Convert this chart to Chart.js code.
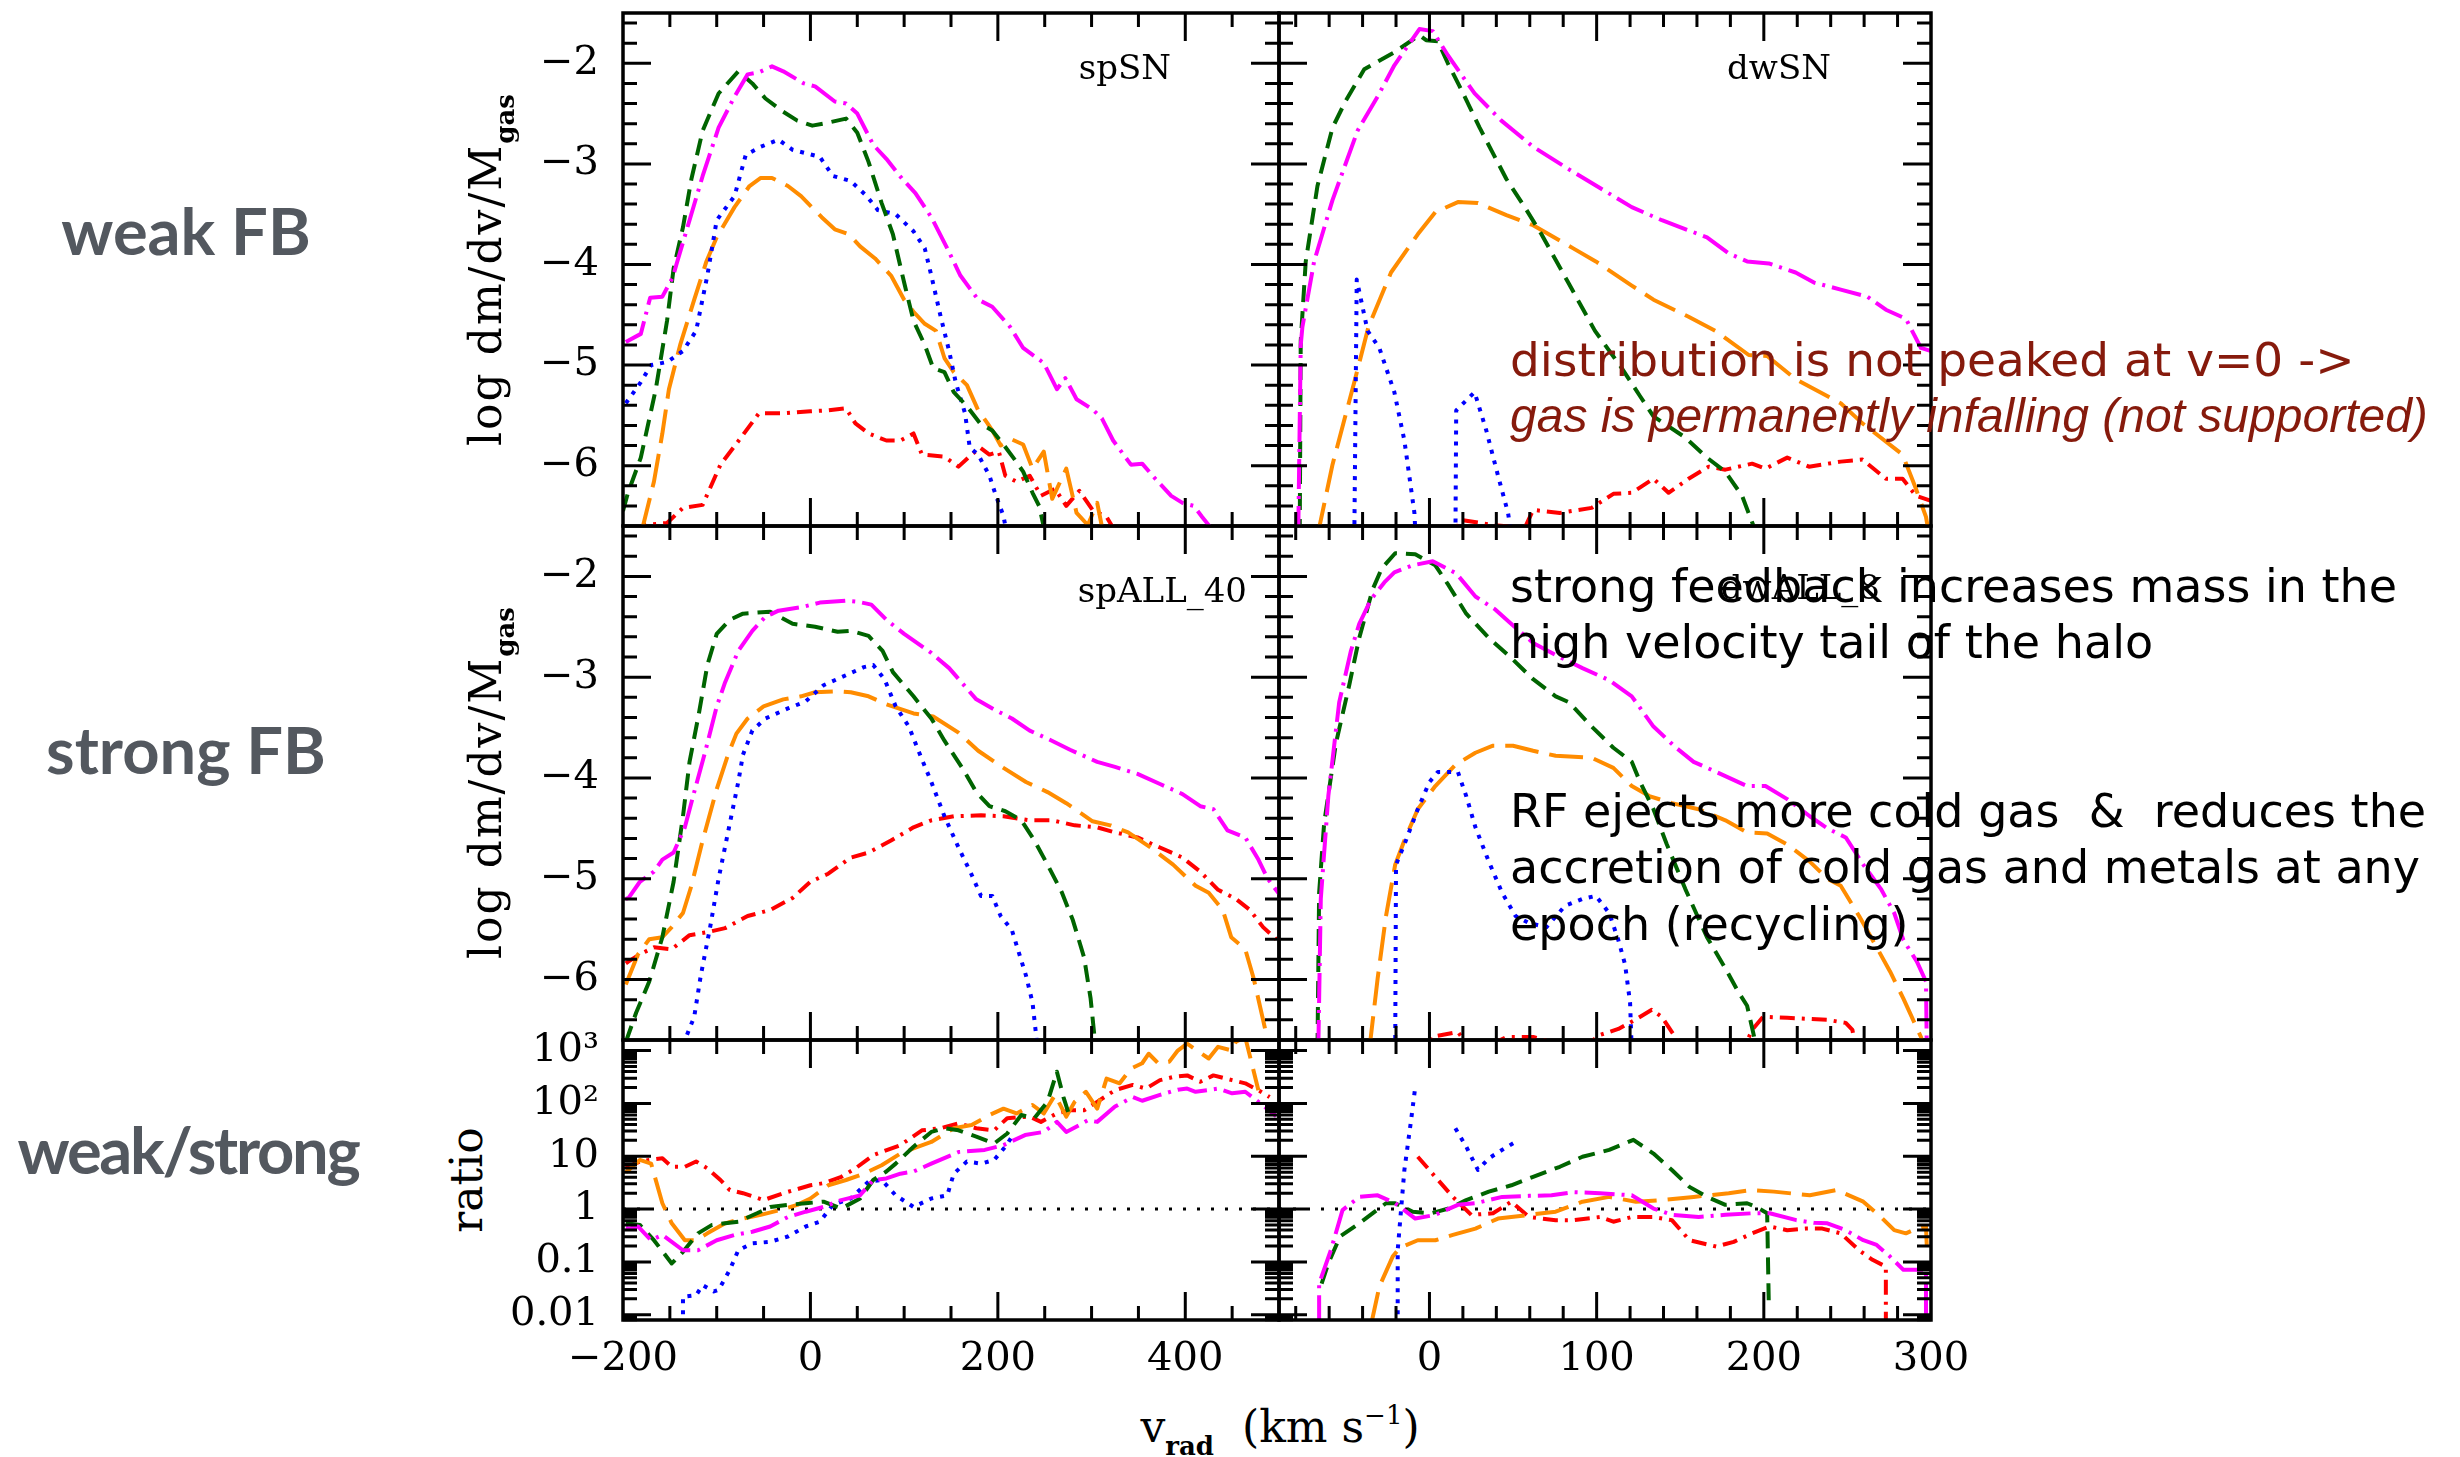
<!DOCTYPE html>
<html lang="en">
<head>
<meta charset="utf-8">
<title>Radial velocity distributions of halo gas</title>
<script src="https://cdn.jsdelivr.net/npm/chart.js@4.4.1/dist/chart.umd.min.js"></script>
<style>
  html, body { margin: 0; padding: 0; background: #fff; }
  #stage { position: relative; width: 2460px; height: 1457px; overflow: hidden; background: #fff; }
  #stage canvas { position: absolute; }
  .txt { position: absolute; white-space: pre; line-height: 1; }
  .row-label { font-family: Lato, 'Open Sans', sans-serif; font-weight: 700; font-size: 65px; color: #53585f; transform: translateX(-50%); }
  .serif { font-family: 'DejaVu Serif', serif; color: #000; }
  .ytitle { font-size: 44px; transform: translate(-50%, -50%) rotate(-90deg); letter-spacing: 2px; }
  .sub { font-size: 26px; font-weight: bold; position: relative; top: 13px; letter-spacing: 0; }
  .sup { font-size: 26px; position: relative; top: -18px; }
  .tag { font-size: 34px; }
  .note { font-family: 'DejaVu Sans', sans-serif; font-size: 46px; color: #000; left: 1510px; }
  .note.red { color: #861a0c; }
  .note.wide { font-size: 47px; }
  .note.italic { font-family: 'Liberation Sans', Arial, sans-serif; font-style: italic; font-size: 48px; }
</style>
</head>
<body>
<div id="stage">
  <div class="txt row-label" style="left:186px;top:198px">weak FB</div>
  <div class="txt row-label" style="left:186px;top:717px">strong FB</div>
  <div class="txt row-label" style="left:188px;top:1117px;letter-spacing:-2.3px">weak/strong</div>

  <div class="txt serif ytitle" style="left:486px;top:270px">log dm/dv/M<span class="sub">gas</span></div>
  <div class="txt serif ytitle" style="left:486px;top:783px">log dm/dv/M<span class="sub">gas</span></div>
  <div class="txt serif ytitle" style="left:467px;top:1180px;letter-spacing:0">ratio</div>
  <div class="txt serif" style="left:1280px;top:1405px;font-size:44px;transform:translateX(-50%)">v<span class="sub">rad</span>  (km s<span class="sup">−1</span>)</div>

  <div class="txt serif tag" style="right:1289px;top:50px">spSN</div>
  <div class="txt serif tag" style="right:629px;top:50px">dwSN</div>
  <div class="txt serif tag" style="right:1213px;top:573px">spALL_40</div>
  <div class="txt serif tag" style="right:580px;top:570px">dwALL_8</div>
</div>
<script>
// ---------------------------------------------------------------
// Axis limits and tick labels
// ---------------------------------------------------------------
const vradLeft = [-200, 500];          // km/s, spiral runs
const vradRight = [-90, 300];          // km/s, dwarf runs
const logDensity = [-6.6, -1.5];       // log dm/dv/Mgas
const ratioLog = [-2.1, 3.2];          // log10 of weak/strong ratio
const xLabelsLeft = [-200, 0, 200, 400];
const xLabelsRight = [0, 100, 200, 300];
const yLabels = [-6, -5, -4, -3, -2];
const ratioTickValues = [0.01, 0.1, 1, 10, 100, 1000];
const ratioTickText = ['0.01', '0.1', '1', '10', '10²', '10³'];

// ---------------------------------------------------------------
// spSN (weak feedback, spiral): [v_rad, log dm/dv/Mgas]
// ---------------------------------------------------------------
const spSN_magenta = [[-197,-4.77],[-181,-4.69],[-171,-4.33],[-158,-4.32],[-147,-4.13],[-143,-4.0],[-129,-3.56],[-115,-3.12],[-98,-2.64],[-81,-2.33],[-67,-2.11],[-55,-2.09],[-41,-2.03],[-29,-2.08],[-7,-2.2],[5,-2.23],[26,-2.38],[38,-2.4],[50,-2.5],[67,-2.81],[81,-2.95],[98,-3.15],[112,-3.29],[129,-3.53],[146,-3.84],[160,-4.11],[179,-4.35],[194,-4.42],[213,-4.62],[227,-4.83],[249,-4.98],[263,-5.24],[272,-5.13],[284,-5.34],[301,-5.44],[311,-5.53],[323,-5.75],[342,-5.99],[354,-5.98],[368,-6.13],[385,-6.3],[397,-6.37],[409,-6.4],[418,-6.51],[430,-6.65]];
const spSN_green = [[-200,-6.45],[-195,-6.28],[-181,-5.92],[-165,-5.24],[-153,-4.56],[-146,-4.04],[-136,-3.63],[-127,-3.15],[-115,-2.67],[-98,-2.3],[-77,-2.08],[-62,-2.2],[-48,-2.35],[-31,-2.47],[-14,-2.57],[2,-2.62],[19,-2.59],[38,-2.55],[50,-2.69],[62,-2.98],[76,-3.39],[88,-3.7],[100,-4.18],[110,-4.56],[122,-4.8],[131,-5.03],[143,-5.07],[153,-5.27],[167,-5.41],[181,-5.58],[194,-5.65],[206,-5.79],[218,-5.94],[227,-6.06],[237,-6.27],[244,-6.4],[250,-6.65]];
const spSN_blue = [[-197,-5.38],[-181,-5.17],[-170,-5.0],[-153,-4.97],[-136,-4.86],[-122,-4.66],[-110,-4.11],[-100,-3.56],[-81,-3.32],[-69,-2.91],[-53,-2.83],[-34,-2.76],[-19,-2.86],[10,-2.93],[24,-3.12],[43,-3.17],[60,-3.32],[72,-3.46],[91,-3.5],[110,-3.67],[122,-3.84],[129,-4.11],[139,-4.52],[148,-4.86],[155,-5.17],[165,-5.48],[170,-5.82],[179,-5.89],[191,-6.1],[198,-6.3],[206,-6.5],[209,-6.65]];
const spSN_orange = [[-180,-6.65],[-167,-6.16],[-158,-5.68],[-151,-5.24],[-139,-4.8],[-124,-4.35],[-111,-3.97],[-100,-3.73],[-81,-3.43],[-65,-3.22],[-53,-3.14],[-41,-3.14],[-24,-3.22],[-10,-3.32],[12,-3.53],[26,-3.65],[41,-3.7],[53,-3.82],[69,-3.94],[86,-4.11],[100,-4.35],[110,-4.47],[122,-4.59],[134,-4.66],[143,-4.93],[153,-5.07],[167,-5.2],[179,-5.45],[189,-5.58],[196,-5.68],[203,-5.8],[215,-5.74],[227,-5.79],[237,-6.03],[249,-5.86],[258,-6.33],[273,-6.03],[284,-6.47],[296,-6.59],[306,-6.37],[312,-6.65]];
const spSN_red = [[-185,-6.7],[-177,-6.59],[-153,-6.57],[-136,-6.42],[-115,-6.39],[-96,-5.99],[-74,-5.72],[-55,-5.48],[-29,-5.48],[0,-5.46],[19,-5.45],[38,-5.43],[48,-5.58],[62,-5.68],[81,-5.75],[96,-5.75],[110,-5.68],[119,-5.89],[143,-5.91],[158,-6.01],[172,-5.89],[181,-5.82],[191,-5.89],[201,-5.86],[208,-6.1],[220,-6.16],[234,-6.1],[246,-6.3],[261,-6.23],[273,-6.4],[287,-6.25],[301,-6.44],[316,-6.51],[325,-6.65]];

// ---------------------------------------------------------------
// dwSN (weak feedback, dwarf)
// ---------------------------------------------------------------
const dwSN_magenta = [[-78.5,-6.7],[-77,-4.8],[-76,-4.62],[-69,-3.97],[-58,-3.36],[-43,-2.67],[-31,-2.33],[-21,-2.02],[-6,-1.66],[2,-1.68],[11,-1.92],[27,-2.3],[43,-2.57],[62,-2.83],[83,-3.05],[102,-3.24],[121,-3.43],[139,-3.56],[166,-3.73],[179,-3.89],[190,-3.97],[203,-3.99],[219,-4.08],[230,-4.18],[246,-4.25],[262,-4.32],[273,-4.45],[285,-4.54],[294,-4.83],[300,-4.86]];
const dwSN_green = [[-77.6,-6.7],[-77,-4.76],[-74,-3.97],[-67,-3.22],[-58,-2.64],[-50,-2.37],[-39,-2.06],[-21,-1.89],[-6,-1.72],[-2,-1.77],[5,-1.78],[11,-2.0],[19,-2.26],[30,-2.64],[46,-3.15],[57,-3.43],[67,-3.7],[83,-4.18],[99,-4.66],[115,-5.03],[126,-5.31],[134,-5.51],[153,-5.72],[166,-5.92],[177,-6.06],[187,-6.3],[195,-6.65]];
const dwSN_blue = [[-45,-6.8],[-43.5,-4.15],[-37,-4.66],[-30,-4.83],[-21,-5.27],[-15,-5.75],[-9,-6.47],[-8,-6.8],[15.5,-6.8],[16,-5.45],[27,-5.27],[34,-5.65],[41,-6.1],[47,-6.47],[50,-6.8]];
const dwSN_orange = [[-67,-6.7],[-58,-5.99],[-44.5,-5.14],[-36.5,-4.62],[-23,-4.08],[-7,-3.7],[3.5,-3.48],[17,-3.38],[29,-3.39],[46,-3.51],[62,-3.61],[86,-3.84],[99.5,-3.97],[121,-4.21],[134,-4.35],[155,-4.52],[171,-4.66],[191,-4.9],[202,-4.91],[219,-5.14],[246,-5.38],[259,-5.58],[283,-5.89],[291,-6.23],[297,-6.51],[299,-6.7]];
const dwSN_red = [[10,-6.8],[19,-6.54],[38,-6.59],[57,-6.62],[62,-6.44],[78,-6.47],[97,-6.42],[110,-6.28],[121,-6.27],[134,-6.13],[143,-6.27],[155,-6.13],[167,-6.01],[177,-6.04],[193,-5.98],[201,-6.03],[214,-5.92],[227,-6.01],[246,-5.96],[259,-5.94],[273,-6.13],[283,-6.13],[291,-6.3],[300,-6.35]];

// ---------------------------------------------------------------
// spALL_40 (strong feedback, spiral)
// ---------------------------------------------------------------
const spALL_magenta = [[-197,-5.2],[-194,-5.19],[-182,-5.03],[-167,-4.93],[-158,-4.81],[-146,-4.74],[-134,-4.49],[-124,-4.14],[-112,-3.73],[-100,-3.29],[-91,-3.05],[-77,-2.74],[-62,-2.54],[-48,-2.4],[-34,-2.34],[-7,-2.3],[10,-2.26],[38,-2.24],[50,-2.25],[65,-2.28],[81,-2.43],[100,-2.57],[129,-2.76],[148,-2.91],[177,-3.22],[196,-3.32],[215,-3.41],[234,-3.53],[253,-3.61],[277,-3.72],[306,-3.84],[325,-3.89],[349,-3.96],[373,-4.06],[397,-4.16],[416,-4.28],[430,-4.31],[445,-4.52],[464,-4.59],[478,-4.81],[488,-5.0],[500,-5.15]];
const spALL_green = [[-197,-6.62],[-186,-6.33],[-172,-6.02],[-158,-5.58],[-146,-5.03],[-136,-4.38],[-129,-3.84],[-119,-3.36],[-110,-2.88],[-100,-2.57],[-86,-2.43],[-72,-2.37],[-43,-2.35],[-19,-2.47],[5,-2.5],[29,-2.55],[43,-2.54],[62,-2.59],[77,-2.74],[88,-2.95],[110,-3.19],[129,-3.41],[143,-3.63],[162,-3.9],[177,-4.14],[191,-4.28],[208,-4.33],[225,-4.42],[239,-4.62],[253,-4.86],[268,-5.13],[280,-5.41],[292,-5.78],[299,-6.19],[304,-6.65]];
const spALL_blue = [[-136,-6.65],[-124,-6.37],[-117,-5.96],[-107,-5.48],[-98,-5.0],[-86,-4.45],[-77,-4.04],[-72,-3.77],[-62,-3.53],[-48,-3.41],[-24,-3.31],[-5,-3.24],[14,-3.08],[38,-2.98],[57,-2.9],[67,-2.88],[79,-3.02],[91,-3.29],[105,-3.49],[117,-3.77],[129,-4.04],[143,-4.38],[158,-4.69],[172,-4.96],[182,-5.17],[194,-5.17],[203,-5.37],[215,-5.51],[222,-5.72],[230,-5.96],[237,-6.23],[242,-6.65]];
const spALL_orange = [[-197,-6.05],[-184,-5.75],[-172,-5.6],[-158,-5.58],[-148,-5.48],[-136,-5.34],[-127,-5.07],[-115,-4.62],[-100,-4.11],[-88,-3.77],[-79,-3.56],[-67,-3.41],[-50,-3.29],[-29,-3.22],[-10,-3.19],[5,-3.15],[29,-3.14],[43,-3.15],[62,-3.19],[81,-3.27],[110,-3.36],[131,-3.39],[158,-3.55],[179,-3.73],[206,-3.9],[230,-4.04],[253,-4.14],[273,-4.25],[301,-4.43],[320,-4.47],[339,-4.54],[363,-4.69],[387,-4.86],[411,-5.07],[425,-5.14],[440,-5.31],[449,-5.58],[464,-5.7],[473,-5.99],[483,-6.4],[489,-6.65]];
const spALL_red = [[-197,-5.84],[-194,-5.82],[-182,-5.75],[-167,-5.68],[-148,-5.7],[-129,-5.56],[-110,-5.53],[-91,-5.49],[-67,-5.37],[-43,-5.31],[-19,-5.19],[0,-5.03],[19,-4.95],[43,-4.79],[62,-4.74],[86,-4.62],[110,-4.49],[129,-4.42],[153,-4.38],[182,-4.37],[206,-4.38],[234,-4.42],[258,-4.42],[282,-4.47],[306,-4.49],[325,-4.54],[349,-4.59],[373,-4.69],[397,-4.79],[416,-4.93],[435,-5.11],[454,-5.2],[469,-5.31],[483,-5.48],[497,-5.6]];

// ---------------------------------------------------------------
// dwALL_8 (strong feedback, dwarf)
// ---------------------------------------------------------------
const dwALL_magenta = [[-66.5,-6.7],[-65,-5.2],[-60.5,-4.18],[-54,-3.25],[-47,-2.74],[-42,-2.47],[-35,-2.23],[-27,-2.06],[-21,-1.96],[-10,-1.89],[2,-1.85],[16,-1.97],[27.5,-2.2],[39.5,-2.33],[47.5,-2.45],[62,-2.66],[75.5,-2.78],[91.5,-2.91],[107.5,-3.03],[121,-3.19],[134,-3.49],[147.5,-3.7],[158,-3.84],[171.5,-3.94],[190,-4.08],[201,-4.08],[214,-4.21],[227.5,-4.38],[238,-4.5],[249,-4.59],[259.5,-4.86],[270,-5.1],[278,-5.34],[283.5,-5.61],[291.5,-5.82],[297,-6.02],[297.5,-6.7]];
const dwALL_green = [[-67,-6.7],[-66,-5.14],[-63,-4.45],[-56,-3.66],[-48,-3.08],[-42,-2.61],[-34,-2.13],[-28.5,-1.92],[-20.5,-1.77],[-8.5,-1.78],[3.5,-1.89],[11.5,-2.09],[22,-2.37],[35.5,-2.61],[49,-2.81],[62,-3.02],[75.5,-3.19],[83.5,-3.25],[97,-3.49],[110,-3.7],[121,-3.84],[126,-4.04],[134,-4.31],[142,-4.66],[153,-5.1],[166,-5.58],[177,-5.89],[185,-6.13],[190,-6.26],[196,-6.7]];
const dwALL_blue = [[-20.5,-6.7],[-20,-4.86],[-15,-4.66],[-7,-4.31],[0,-4.04],[5,-3.94],[17,-3.94],[22,-4.18],[27.5,-4.49],[35.5,-4.83],[43.5,-5.14],[51.5,-5.37],[59.5,-5.44],[70,-5.48],[81,-5.27],[91.5,-5.2],[99.5,-5.17],[107.5,-5.34],[113,-5.61],[117,-5.85],[120,-6.23],[121,-6.7]];
const dwALL_orange = [[-36,-6.7],[-31,-5.99],[-26,-5.37],[-20.5,-4.86],[-15,-4.62],[-7,-4.31],[3.5,-4.08],[15.5,-3.87],[27.5,-3.75],[38,-3.68],[50,-3.68],[62,-3.73],[75.5,-3.78],[97,-3.8],[110,-3.9],[121,-4.08],[131.5,-4.18],[145,-4.25],[161,-4.31],[177,-4.42],[190,-4.54],[202,-4.55],[214,-4.66],[227.5,-4.83],[238,-5.0],[246,-5.07],[257,-5.37],[267.5,-5.68],[275.5,-5.92],[283.5,-6.19],[294,-6.57],[296,-6.7]];
const dwALL_red = [[-5,-6.8],[1,-6.57],[17,-6.52],[25,-6.7],[40,-6.62],[46,-6.57],[62,-6.57],[90,-6.7],[102,-6.55],[113,-6.49],[123,-6.4],[133,-6.3],[139,-6.37],[149,-6.62],[160,-6.8],[185,-6.8],[193,-6.5],[199.5,-6.37],[214,-6.38],[238,-6.4],[249,-6.43],[253,-6.5],[256,-6.8]];

// ---------------------------------------------------------------
// weak/strong ratios, stored as log10(ratio)
// ---------------------------------------------------------------
const spRatio_magenta = [[-197,-0.35],[-194,-0.37],[-184,-0.33],[-170,-0.59],[-158,-0.49],[-136,-0.78],[-120,-0.78],[-100,-0.59],[-81,-0.49],[-62,-0.43],[-43,-0.33],[-24,-0.15],[-5,-0.05],[14,0.04],[33,0.17],[53,0.26],[67,0.55],[81,0.58],[96,0.67],[110,0.71],[129,0.86],[158,1.08],[186,1.12],[206,1.21],[229,1.4],[249,1.46],[263,1.65],[273,1.46],[287,1.59],[296,1.68],[306,1.65],[325,1.94],[344,2.12],[354,2.05],[373,2.16],[392,2.26],[402,2.28],[411,2.22],[435,2.28],[450,2.19],[464,2.22],[478,2.03],[497,1.76]];
const spRatio_green = [[-197,-0.27],[-182,-0.3],[-167,-0.59],[-148,-1.03],[-136,-0.81],[-120,-0.46],[-105,-0.3],[-91,-0.27],[-77,-0.24],[-57,-0.08],[-43,0.04],[-24,0.08],[-5,0.11],[14,0.14],[33,0.01],[53,0.2],[67,0.55],[81,0.71],[91,0.86],[110,1.18],[129,1.46],[143,1.53],[158,1.49],[177,1.37],[196,1.24],[210,1.43],[225,1.78],[239,1.72],[253,2.03],[263,2.6],[270,2.12],[275,1.84]];
const spRatio_blue = [[-136,-2.2],[-136,-1.66],[-122,-1.63],[-115,-1.44],[-103,-1.56],[-98,-1.53],[-86,-1.15],[-77,-0.78],[-62,-0.65],[-43,-0.62],[-24,-0.52],[-5,-0.33],[10,-0.24],[24,0.08],[43,0.2],[62,0.52],[76,0.55],[91,0.26],[110,0.04],[129,0.2],[146,0.26],[153,0.67],[167,0.9],[182,0.86],[196,0.93],[208,1.18],[215,1.37]];
const spRatio_orange = [[-197,0.7],[-194,0.74],[-182,0.93],[-170,0.86],[-158,0.11],[-148,-0.27],[-134,-0.59],[-122,-0.59],[-110,-0.46],[-91,-0.27],[-72,-0.18],[-53,-0.11],[-33,-0.02],[-14,0.08],[0,0.2],[19,0.45],[38,0.55],[57,0.67],[76,0.83],[96,1.05],[110,1.15],[129,1.27],[153,1.53],[172,1.59],[191,1.78],[206,1.9],[220,1.81],[237,1.97],[249,1.81],[261,2.16],[273,1.75],[282,2.03],[294,2.22],[306,1.9],[316,2.47],[330,2.38],[342,2.66],[354,2.76],[361,2.94],[371,2.76],[383,2.79],[392,3.0],[402,3.13],[425,2.85],[435,3.07],[450,3.0],[454,3.17],[464,3.25],[478,2.25]];
const spRatio_red = [[-197,0.78],[-182,0.9],[-172,0.93],[-158,0.96],[-148,0.8],[-134,0.8],[-122,0.9],[-110,0.77],[-96,0.55],[-86,0.36],[-72,0.3],[-50,0.17],[-29,0.3],[0,0.45],[14,0.49],[33,0.61],[48,0.77],[67,1.02],[96,1.21],[119,1.49],[139,1.53],[158,1.62],[177,1.53],[196,1.49],[210,1.72],[234,1.75],[246,1.65],[263,1.81],[277,1.87],[292,1.87],[306,2.03],[325,2.25],[344,2.35],[358,2.28],[373,2.44],[387,2.5],[402,2.53],[416,2.41],[430,2.53],[450,2.44],[464,2.38],[478,2.25],[490,2.12]];

const dwRatio_magenta = [[-66,-2.2],[-66,-1.41],[-59,-0.78],[-52,-0.02],[-42,0.23],[-31,0.26],[-20.5,0.11],[-8.5,-0.18],[3.5,-0.11],[17,0.08],[27.5,0.11],[43.5,0.23],[59.5,0.25],[73,0.26],[86,0.32],[102,0.3],[121,0.26],[134,0.01],[145,-0.11],[161,-0.15],[177,-0.11],[193,-0.08],[203.5,-0.08],[219.5,-0.21],[230,-0.26],[238,-0.27],[249,-0.4],[259.5,-0.59],[267.5,-0.68],[275.5,-0.9],[283.5,-1.15],[291.5,-1.15],[297,-1.15],[297,-2.2]];
const dwRatio_green = [[-64.5,-1.41],[-60.5,-1.03],[-53.5,-0.52],[-42,-0.27],[-26,0.11],[-20.5,0.11],[-10,-0.05],[1,-0.08],[11.5,0.01],[22,0.17],[35.5,0.33],[49,0.45],[62,0.61],[78,0.8],[91.5,0.99],[107.5,1.12],[122,1.31],[134,1.05],[145,0.74],[155.5,0.42],[166,0.23],[177,0.08],[190,0.11],[195.5,0.04],[202,-0.08],[203,-1.85]];
const dwRatio_blue = [[-19,-2.2],[-19,-0.78],[-15,0.74],[-11,1.68],[-8.5,2.31],null,[15.5,1.53],[22,1.18],[29,0.74],[35.5,0.96],[45,1.15],[51.5,1.27]];
const dwRatio_orange = [[-35,-2.2],[-30,-1.47],[-22,-0.9],[-18,-0.74],[-7,-0.59],[3.5,-0.59],[14,-0.49],[27.5,-0.37],[41,-0.18],[59.5,-0.11],[75.5,-0.05],[91.5,0.14],[107.5,0.23],[123.5,0.14],[139.5,0.17],[158,0.23],[179,0.3],[193,0.36],[206,0.33],[227.5,0.26],[243.5,0.36],[259.5,0.14],[270,-0.15],[278,-0.4],[285,-0.46],[291.5,-0.37],[297,-0.33],[297.5,-0.71]];
const dwRatio_red = [[-7,0.99],[3.5,0.61],[14,0.23],[25,-0.11],[38,-0.08],[49,0.14],[59.5,-0.15],[75.5,-0.21],[86,-0.21],[102,-0.15],[110,-0.24],[121,-0.15],[134,-0.15],[145,-0.21],[155.5,-0.59],[171.5,-0.71],[182,-0.62],[193,-0.46],[203.5,-0.33],[214,-0.4],[225,-0.37],[235,-0.37],[246,-0.46],[257,-0.78],[265,-0.96],[273,-1.09],[273,-2.2]];

// ---------------------------------------------------------------
// Line styles
// ---------------------------------------------------------------
const STYLES = {
  magenta: { color: '#ff00ff', dash: [30, 7, 3, 7] },
  green:   { color: '#006400', dash: [17, 9] },
  blue:    { color: '#0000ff', dash: [4, 7] },
  orange:  { color: '#ff8c00', dash: [34, 11] },
  red:     { color: '#ff0000', dash: [15, 7, 3, 7] }
};

function toPoints(arr, f) {
  const out = [];
  let lastX = 0;
  arr.forEach(p => {
    if (p === null) { out.push({ x: lastX, y: null }); return; }
    lastX = p[0];
    out.push({ x: p[0], y: f ? f(p[1]) : p[1] });
  });
  return out;
}

function curve(arr, style, f) {
  return {
    data: toPoints(arr, f),
    borderColor: style.color,
    borderWidth: 4,
    borderDash: style.dash,
    borderCapStyle: 'butt',
    borderJoinStyle: 'round',
    pointRadius: 0,
    fill: false,
    tension: 0,
    spanGaps: false,
    clip: 0
  };
}

const pow10 = v => Math.pow(10, v);

function unityLine(xr) {
  return {
    data: [{ x: xr[0], y: 1 }, { x: xr[1], y: 1 }],
    borderColor: '#000', borderWidth: 3, borderDash: [3, 11], borderCapStyle: 'butt',
    pointRadius: 0, fill: false, clip: 0
  };
}

// ---------------------------------------------------------------
// Tick positions for the inward tick marks on every frame side
// ---------------------------------------------------------------
function steps(a, b, s) {
  const out = [];
  for (let i = 0; a + i * s <= b + 1e-9; i++) out.push(+(a + i * s).toFixed(6));
  return out;
}
const leftXMajor = [0, 200, 400];
const leftXMinor = steps(-150, 450, 50).filter(v => v % 200 !== 0);
const rightXMajor = [0, 100, 200];
const rightXMinor = steps(-80, 280, 20).filter(v => v % 100 !== 0);
const densYMajor = [-6, -5, -4, -3, -2];
const densYMinor = steps(-6.4, -1.6, 0.2).filter(v => Math.abs(v - Math.round(v)) > 1e-6);
const ratioYMinor = [];
for (let d = -3; d <= 2; d++) for (let k = 2; k <= 9; k++) {
  const v = k * Math.pow(10, d);
  if (v >= pow10(ratioLog[0]) && v <= pow10(ratioLog[1])) ratioYMinor.push(v);
}

function frameTicks(spec) {
  return {
    id: 'frameTicks',
    afterDatasetsDraw(chart) {
      const { ctx, chartArea: a } = chart;
      const xs = chart.scales.x, ys = chart.scales.y;
      ctx.save();
      ctx.strokeStyle = '#000';
      ctx.lineWidth = 3;
      ctx.lineCap = 'butt';
      ctx.beginPath();
      const vTick = (v, len) => {
        const p = xs.getPixelForValue(v);
        ctx.moveTo(p, a.bottom); ctx.lineTo(p, a.bottom - len);
        ctx.moveTo(p, a.top); ctx.lineTo(p, a.top + len);
      };
      const hTick = (v, len) => {
        const p = ys.getPixelForValue(v);
        ctx.moveTo(a.left, p); ctx.lineTo(a.left + len, p);
        ctx.moveTo(a.right, p); ctx.lineTo(a.right - len, p);
      };
      spec.xMajor.forEach(v => vTick(v, 28));
      spec.xMinor.forEach(v => vTick(v, 14));
      spec.yMajor.forEach(v => hTick(v, 28));
      spec.yMinor.forEach(v => hTick(v, 14));
      ctx.stroke();
      ctx.lineWidth = 3.5;
      ctx.strokeRect(a.left, a.top, a.right - a.left, a.bottom - a.top);
      ctx.restore();
    }
  };
}

// ---------------------------------------------------------------
// Panel builder
// ---------------------------------------------------------------
const TICK_FONT = { family: "'DejaVu Serif', serif", size: 40 };
const fmtNum = v => (v < 0 ? '\u2212' + Math.abs(v) : String(v));

function panel(p) {
  const m = p.margin;
  const stage = document.getElementById('stage');
  const canvas = document.createElement('canvas');
  const W = p.frame.w + m.l + m.r, H = p.frame.h + m.t + m.b;
  canvas.width = W; canvas.height = H;
  canvas.style.left = (p.frame.x - m.l) + 'px';
  canvas.style.top = (p.frame.y - m.t) + 'px';
  canvas.style.width = W + 'px'; canvas.style.height = H + 'px';
  stage.insertBefore(canvas, stage.firstChild);

  const ratio = p.ratio;
  new Chart(canvas, {
    type: 'line',
    data: { datasets: p.datasets },
    options: {
      responsive: false, animation: false, devicePixelRatio: 1,
      layout: { padding: { left: 0, right: m.r, top: m.t, bottom: 0 } },
      plugins: { legend: { display: false }, tooltip: { enabled: false }, title: { display: false } },
      elements: { point: { radius: 0 }, line: { tension: 0 } },
      scales: {
        x: {
          type: 'linear', min: p.xRange[0], max: p.xRange[1],
          grid: { display: false, drawTicks: false }, border: { display: false },
          ticks: { display: p.showX, autoSkip: false, maxRotation: 0, minRotation: 0, padding: 16,
                   font: TICK_FONT, color: '#000', callback: v => fmtNum(v) },
          afterBuildTicks: s => { s.ticks = p.xLabels.map(v => ({ value: v })); },
          afterFit: s => { s.height = m.b; s.paddingLeft = 0; s.paddingRight = 0; }
        },
        y: {
          type: ratio ? 'logarithmic' : 'linear',
          min: ratio ? pow10(ratioLog[0]) : logDensity[0],
          max: ratio ? pow10(ratioLog[1]) : logDensity[1],
          grid: { display: false, drawTicks: false }, border: { display: false },
          ticks: { display: p.showY, autoSkip: false, padding: 24, font: TICK_FONT, color: '#000',
                   callback: v => {
                     if (!ratio) return fmtNum(v);
                     const i = ratioTickValues.findIndex(t => Math.abs(Math.log10(t) - Math.log10(v)) < 1e-6);
                     return i >= 0 ? ratioTickText[i] : '';
                   } },
          afterBuildTicks: s => { s.ticks = (ratio ? ratioTickValues : yLabels).map(v => ({ value: v })); },
          afterFit: s => { s.width = m.l; s.paddingTop = 0; s.paddingBottom = 0; }
        }
      }
    },
    plugins: [frameTicks(p.ticks)]
  });
}

const leftTicks = { xMajor: leftXMajor, xMinor: leftXMinor, yMajor: densYMajor, yMinor: densYMinor };
const rightTicks = { xMajor: rightXMajor, xMinor: rightXMinor, yMajor: densYMajor, yMinor: densYMinor };
const leftRatioTicks = { xMajor: leftXMajor, xMinor: leftXMinor, yMajor: ratioTickValues, yMinor: ratioYMinor };
const rightRatioTicks = { xMajor: rightXMajor, xMinor: rightXMinor, yMajor: ratioTickValues, yMinor: ratioYMinor };

const S = STYLES;
const set = (m, g, b, o, r, f) => [curve(m, S.magenta, f), curve(g, S.green, f), curve(b, S.blue, f), curve(o, S.orange, f), curve(r, S.red, f)];

// top row: weak feedback
panel({ frame: { x: 623, y: 13, w: 656, h: 513 }, margin: { l: 130, r: 10, t: 10, b: 10 },
        xRange: vradLeft, xLabels: xLabelsLeft, showX: false, showY: true, ticks: leftTicks,
        datasets: set(spSN_magenta, spSN_green, spSN_blue, spSN_orange, spSN_red) });
panel({ frame: { x: 1279, y: 13, w: 652, h: 513 }, margin: { l: 10, r: 10, t: 10, b: 10 },
        xRange: vradRight, xLabels: xLabelsRight, showX: false, showY: false, ticks: rightTicks,
        datasets: set(dwSN_magenta, dwSN_green, dwSN_blue, dwSN_orange, dwSN_red) });
// middle row: strong feedback
panel({ frame: { x: 623, y: 526, w: 656, h: 514 }, margin: { l: 130, r: 10, t: 10, b: 10 },
        xRange: vradLeft, xLabels: xLabelsLeft, showX: false, showY: true, ticks: leftTicks,
        datasets: set(spALL_magenta, spALL_green, spALL_blue, spALL_orange, spALL_red) });
panel({ frame: { x: 1279, y: 526, w: 652, h: 514 }, margin: { l: 10, r: 10, t: 10, b: 10 },
        xRange: vradRight, xLabels: xLabelsRight, showX: false, showY: false, ticks: rightTicks,
        datasets: set(dwALL_magenta, dwALL_green, dwALL_blue, dwALL_orange, dwALL_red) });
// bottom row: weak/strong ratio
panel({ frame: { x: 623, y: 1040, w: 656, h: 280 }, margin: { l: 130, r: 10, t: 10, b: 80 }, ratio: true,
        xRange: vradLeft, xLabels: xLabelsLeft, showX: true, showY: true, ticks: leftRatioTicks,
        datasets: set(spRatio_magenta, spRatio_green, spRatio_blue, spRatio_orange, spRatio_red, pow10).concat([unityLine(vradLeft)]) });
panel({ frame: { x: 1279, y: 1040, w: 652, h: 280 }, margin: { l: 10, r: 60, t: 10, b: 80 }, ratio: true,
        xRange: vradRight, xLabels: xLabelsRight, showX: true, showY: false, ticks: rightRatioTicks,
        datasets: set(dwRatio_magenta, dwRatio_green, dwRatio_blue, dwRatio_orange, dwRatio_red, pow10).concat([unityLine(vradRight)]) });

// Commentary overlaid on the right-hand panels
const notes = [
  { cls: 'note red wide', top: 336, text: 'distribution is not peaked at v=0 ->' },
  { cls: 'note red italic', top: 392, text: 'gas is permanently infalling (not supported)' },
  { cls: 'note', top: 563, text: 'strong feedback increases mass in the' },
  { cls: 'note', top: 619, text: 'high velocity tail of the halo' },
  { cls: 'note', top: 788, text: 'RF ejects more cold gas  &  reduces the' },
  { cls: 'note', top: 844, text: 'accretion of cold gas and metals at any' },
  { cls: 'note', top: 901, text: 'epoch (recycling)' }
];
const stageEl = document.getElementById('stage');
notes.forEach(n => {
  const d = document.createElement('div');
  d.className = 'txt ' + n.cls;
  d.style.top = n.top + 'px';
  d.textContent = n.text;
  stageEl.appendChild(d);
});
</script>
</body>
</html>
